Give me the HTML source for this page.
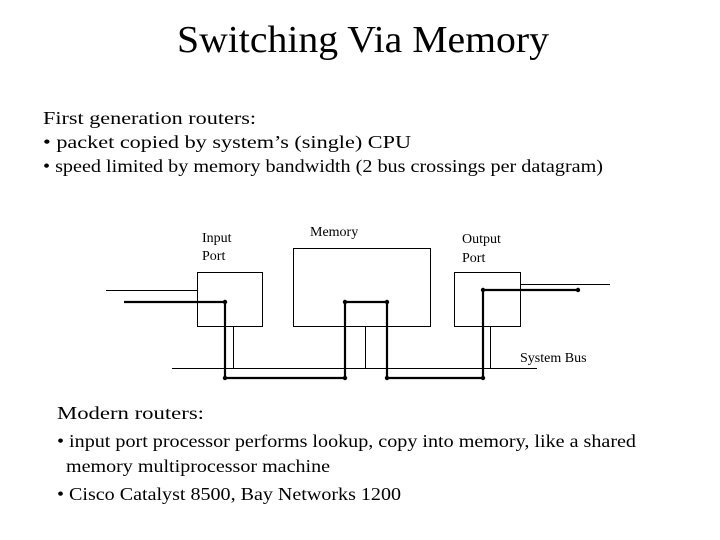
<!DOCTYPE html>
<html><head><style>
html,body{margin:0;padding:0;background:#fff;}
svg{display:block;}
text{font-family:"Liberation Serif",serif;fill:#000;}
</style></head><body>
<svg width="720" height="540" viewBox="0 0 720 540" xmlns="http://www.w3.org/2000/svg">
<text x="363" y="52" font-size="38" text-anchor="middle" textLength="372" lengthAdjust="spacingAndGlyphs">Switching Via Memory</text>
<text x="43" y="124" font-size="18" textLength="213" lengthAdjust="spacingAndGlyphs">First generation routers:</text>
<text x="43" y="148" font-size="18" textLength="368" lengthAdjust="spacingAndGlyphs">• packet copied by system’s (single) CPU</text>
<text x="43" y="172" font-size="18" textLength="560" lengthAdjust="spacingAndGlyphs">• speed limited by memory bandwidth (2 bus crossings per datagram)</text>

<g font-size="14">
<text x="202" y="242">Input</text>
<text x="202" y="260">Port</text>
<text x="310" y="236">Memory</text>
<text x="462" y="243">Output</text>
<text x="462" y="262">Port</text>
<text x="520" y="362">System Bus</text>
</g>

<g fill="none" stroke="#000" stroke-width="1">
<rect x="197.5" y="272.5" width="65" height="54"/>
<rect x="293.5" y="248.5" width="137" height="78"/>
<rect x="454.5" y="272.5" width="66" height="54"/>
<line x1="106" y1="290.5" x2="197" y2="290.5"/>
<line x1="520" y1="284.5" x2="610" y2="284.5"/>
<line x1="172" y1="368.5" x2="537" y2="368.5"/>
<line x1="233.5" y1="326" x2="233.5" y2="368"/>
<line x1="365.5" y1="326" x2="365.5" y2="368"/>
<line x1="490.5" y1="326" x2="490.5" y2="368"/>
</g>
<g fill="none" stroke="#000" stroke-width="2.2">
<polyline points="124,302 225,302 225,378 345,378 345,302 387,302 387,378 483,378 483,290 578,290"/>
</g>
<g fill="#000">
<circle cx="225" cy="302" r="2.2"/><circle cx="225" cy="378" r="2.2"/>
<circle cx="345" cy="378" r="2.2"/><circle cx="345" cy="302" r="2.2"/>
<circle cx="387" cy="302" r="2.2"/><circle cx="387" cy="378" r="2.2"/>
<circle cx="483" cy="378" r="2.2"/><circle cx="483" cy="290" r="2.2"/>
<circle cx="578" cy="290" r="2.2"/>
</g>

<text x="57" y="419" font-size="18" textLength="147" lengthAdjust="spacingAndGlyphs">Modern routers:</text>
<text x="57" y="447" font-size="18" textLength="579" lengthAdjust="spacingAndGlyphs">• input port processor performs lookup, copy into memory, like a shared</text>
<text x="66" y="472" font-size="18" textLength="264" lengthAdjust="spacingAndGlyphs">memory multiprocessor machine</text>
<text x="57" y="500" font-size="18" textLength="344" lengthAdjust="spacingAndGlyphs">• Cisco Catalyst 8500, Bay Networks 1200</text>
</svg>
</body></html>
